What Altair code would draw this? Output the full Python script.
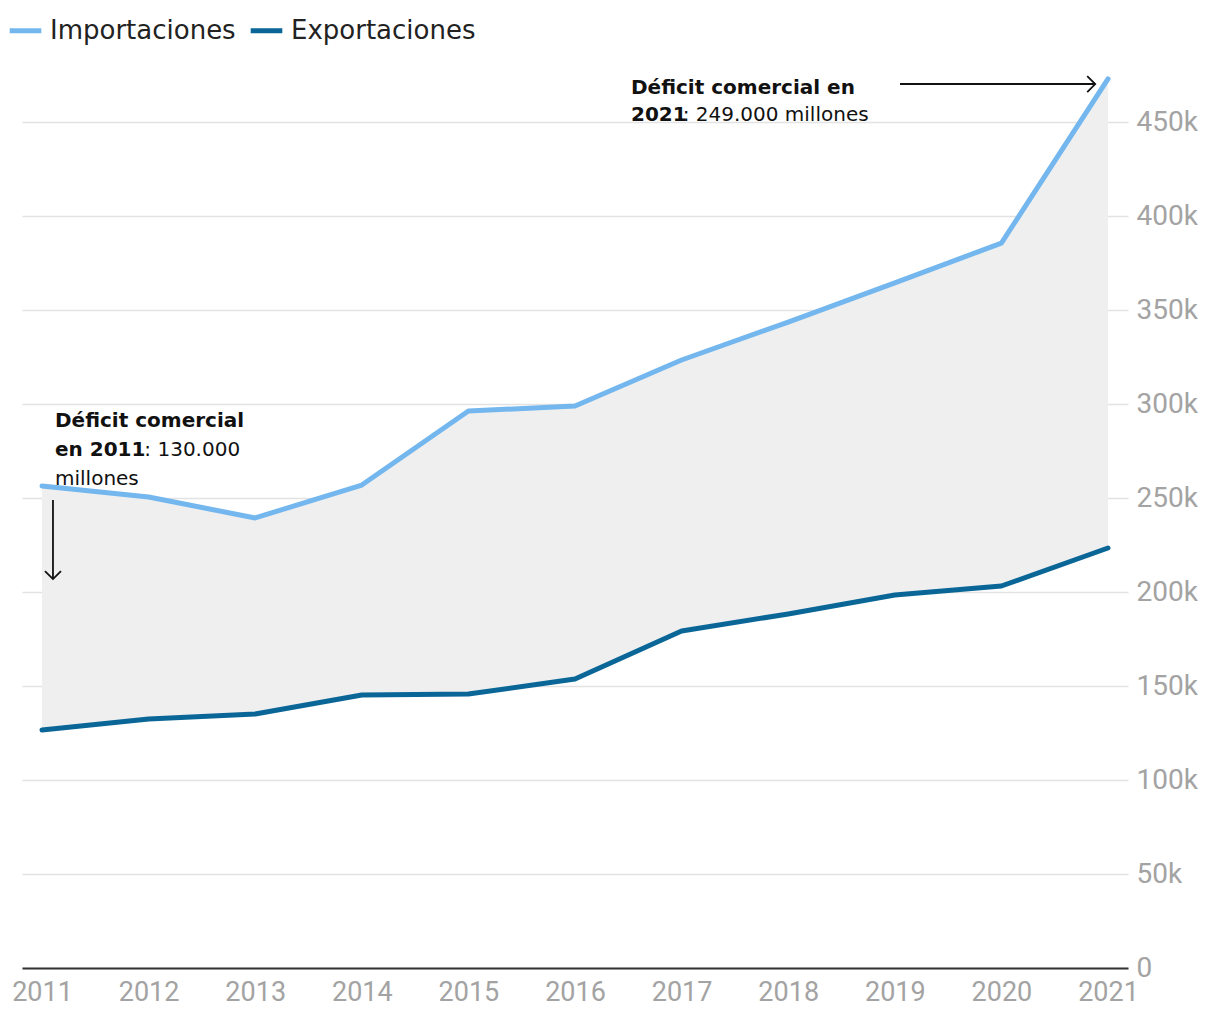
import altair as alt
import pandas as pd

years = [2011, 2012, 2013, 2014, 2015, 2016, 2017, 2018, 2019, 2020, 2021]
importaciones = [256400, 250500, 239400, 256900, 296300, 298900, 323400, 343600, 364400, 385600, 472900]
exportaciones = [126600, 132400, 135100, 145200, 145700, 153700, 179300, 188300, 198400, 203200, 223400]
series_names = ["Importaciones", "Exportaciones"]
series_colors = ["#74b7ee", "#0b6698"]
y_ticks = [0, 50000, 100000, 150000, 200000, 250000, 300000, 350000, 400000, 450000]

FONT = "Roboto"
AFONT = "DejaVu Sans"

df = pd.DataFrame({"year": years, "Importaciones": importaciones, "Exportaciones": exportaciones})

xscale = alt.Scale(domain=[2010.8124, 2021.1876], nice=False, zero=False)
yscale = alt.Scale(domain=[0, 477660], nice=False)

base = alt.Chart(df)

area = base.mark_area(color="#efefef").encode(
    x=alt.X("year:Q", scale=xscale, axis=alt.Axis(
        values=years, format="d", title=None, grid=False, ticks=False,
        domain=True, domainColor="#333333", domainWidth=2,
        labelFont=FONT, labelFontSize=27, labelColor="#a3a3a3",
        labelPadding=11, labelFlush=False, labelOverlap=False)),
    y=alt.Y("Importaciones:Q", scale=yscale, axis=alt.Axis(
        orient="right", values=y_ticks, title=None,
        labelExpr="datum.value == 0 ? '0' : format(datum.value / 1000, 'd') + 'k'",
        grid=True, gridColor="#e2e2e2", gridWidth=1.5, ticks=False, domain=False,
        labelFont=FONT, labelFontSize=28, labelColor="#a3a3a3", labelPadding=8)),
    y2="Exportaciones:Q",
)

lines = base.transform_fold(series_names, as_=["serie", "valor"]).mark_line(
    strokeWidth=5, strokeCap="round", strokeJoin="round"
).encode(
    x=alt.X("year:Q", scale=xscale),
    y=alt.Y("valor:Q", scale=yscale),
    color=alt.Color("serie:N", scale=alt.Scale(domain=series_names, range=series_colors),
                    sort=series_names,
                    legend=alt.Legend(
                        title=None, orient="none", direction="horizontal",
                        legendX=-15, legendY=-58, padding=0,
                        symbolType="stroke", symbolSize=1000, symbolStrokeWidth=5,
                        labelFont=AFONT, labelFontSize=26, labelColor="#222222",
                        labelLimit=0, labelOffset=6, columnPadding=4)),
    detail="serie:N",
)

one = alt.Chart(df).transform_filter("datum.year == 2011")


def txt(text, x, y, bold):
    return one.mark_text(
        text=text, align="left", baseline="alphabetic", font=AFONT, fontSize=20,
        fontWeight="bold" if bold else "normal", color="#111111"
    ).encode(x=alt.X(datum=x, scale=xscale), y=alt.Y(datum=y, scale=yscale))


texts = [
    txt("Déficit comercial en", 2016.525, 465000, True),
    txt("2021", 2016.525, 450600, True),
    txt(": 249.000 millones", 2017.01, 450600, False),
    txt("Déficit comercial", 2011.122, 287766, True),
    txt("en 2011", 2011.122, 272340, True),
    txt(": 130.000", 2011.96, 272340, False),
    txt("millones", 2011.122, 256915, False),
]

arrow1 = one.mark_rule(color="#111111", strokeWidth=1.8).encode(
    x=alt.X(datum=2019.049, scale=xscale), x2=alt.X2(datum=2020.88),
    y=alt.Y(datum=470200, scale=yscale))
head1 = one.mark_point(shape="M-1,-1L0,0L-1,1", filled=False, size=256,
                       color="#111111", strokeWidth=1.8, opacity=1).encode(
    x=alt.X(datum=2020.88, scale=xscale), y=alt.Y(datum=470200, scale=yscale))

arrow2 = one.mark_rule(color="#111111", strokeWidth=1.8).encode(
    x=alt.X(datum=2011.103, scale=xscale),
    y=alt.Y(datum=248936, scale=yscale), y2=alt.Y2(datum=206900))
head2 = one.mark_point(shape="M-1,-1L0,0L1,-1", filled=False, size=256,
                       color="#111111", strokeWidth=1.8, opacity=1).encode(
    x=alt.X(datum=2011.103, scale=xscale), y=alt.Y(datum=206900, scale=yscale))

chart = alt.layer(area, lines, *texts, arrow1, head1, arrow2, head2).properties(
    width=1106, height=898,
    padding={"left": 14, "top": 62, "right": 70, "bottom": 44},
    autosize=alt.AutoSizeParams(type="none"),
    background="white",
).configure_view(strokeWidth=0, stroke="transparent")

chart.save("out.html", embed_options={"renderer": "svg", "actions": False})
